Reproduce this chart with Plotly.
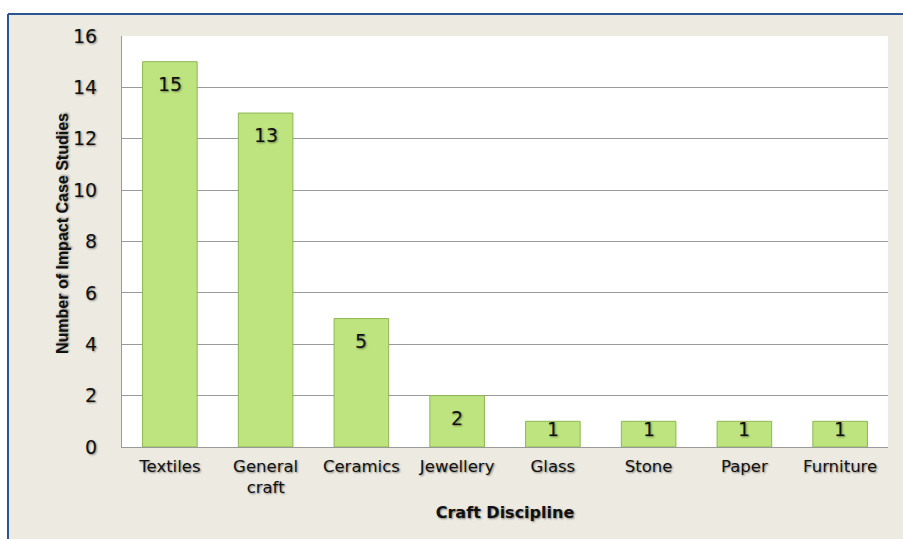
import plotly.graph_objects as go

categories = ["Textiles", "General<br>craft", "Ceramics", "Jewellery", "Glass", "Stone", "Paper", "Furniture"]
values = [15, 13, 5, 2, 1, 1, 1, 1]
y_ticks = [0, 2, 4, 6, 8, 10, 12, 14, 16]

BG = "#ECEAE1"
BLUE = "#2B5592"
SHADOW = "1px 1px 2px rgba(0,0,0,0.45)"
FONT = "DejaVu Sans, Arial"

W, H = 903, 539
L, R, T, B = 122, 15, 36, 92
pw, ph = W - L - R, H - T - B

def px_x(p):
    return (p - L) / pw

def px_y(p):
    return (H - B - p) / ph

fig = go.Figure()
fig.add_trace(go.Bar(
    x=categories, y=values,
    marker=dict(color="#BDE47E", line=dict(color="#8FB552", width=1)),
    width=0.57,
    hoverinfo="skip",
))

for c, v in zip(categories, values):
    fig.add_annotation(
        x=c, y=v, text=str(v), showarrow=False, yanchor="middle",
        yshift=-22 if v > 1 else -8,
        font=dict(family=FONT, size=19, color="#111", shadow=SHADOW),
    )

# y-axis title placed as in the reference
fig.add_annotation(
    xref="paper", yref="paper", x=px_x(62), y=px_y(234),
    text="<b>Number of Impact Case Studies</b>", textangle=-90, showarrow=False,
    xanchor="center", yanchor="middle",
    font=dict(family="Liberation Sans Narrow, Arial Narrow, Arial", size=16, color="#111", shadow=SHADOW),
)

shapes = [
    dict(type="rect", xref="paper", yref="paper", x0=px_x(0), x1=px_x(W), y0=px_y(0), y1=px_y(14),
         fillcolor="white", line=dict(width=0), layer="below"),
    dict(type="rect", xref="paper", yref="paper", x0=px_x(0), x1=px_x(8), y0=px_y(0), y1=px_y(H),
         fillcolor="white", line=dict(width=0), layer="below"),
    dict(type="line", xref="paper", yref="paper", x0=px_x(8), x1=px_x(W), y0=px_y(14), y1=px_y(14),
         line=dict(color=BLUE, width=2)),
    dict(type="line", xref="paper", yref="paper", x0=px_x(8), x1=px_x(8), y0=px_y(14), y1=px_y(H),
         line=dict(color=BLUE, width=2)),
]

fig.update_layout(
    width=W, height=H,
    margin=dict(l=L, r=R, t=T, b=B),
    paper_bgcolor=BG, plot_bgcolor="white",
    showlegend=False,
    shapes=shapes,
    bargap=0.43,
    font=dict(family=FONT, color="#222"),
)
fig.update_yaxes(
    range=[0, 16], tickvals=y_ticks, showgrid=True, gridcolor="#9A9A9A", gridwidth=1,
    showline=True, linecolor="#9A9A9A", linewidth=1,
    ticks="outside", ticklen=20, tickcolor="rgba(0,0,0,0)",
    tickfont=dict(family=FONT, size=19, color="#111", shadow=SHADOW),
    zeroline=False, fixedrange=True,
)
fig.update_xaxes(
    showline=True, linecolor="#9A9A9A", linewidth=1,
    ticks="outside", ticklen=4, tickcolor="rgba(0,0,0,0)",
    tickfont=dict(family=FONT, size=16.5, color="#111", shadow=SHADOW),
    title=dict(text="<b>Craft Discipline</b>", standoff=10,
               font=dict(family=FONT, size=16, color="#111", shadow=SHADOW)),
    fixedrange=True,
)

fig.write_html("out.html", config={"displayModeBar": False})
